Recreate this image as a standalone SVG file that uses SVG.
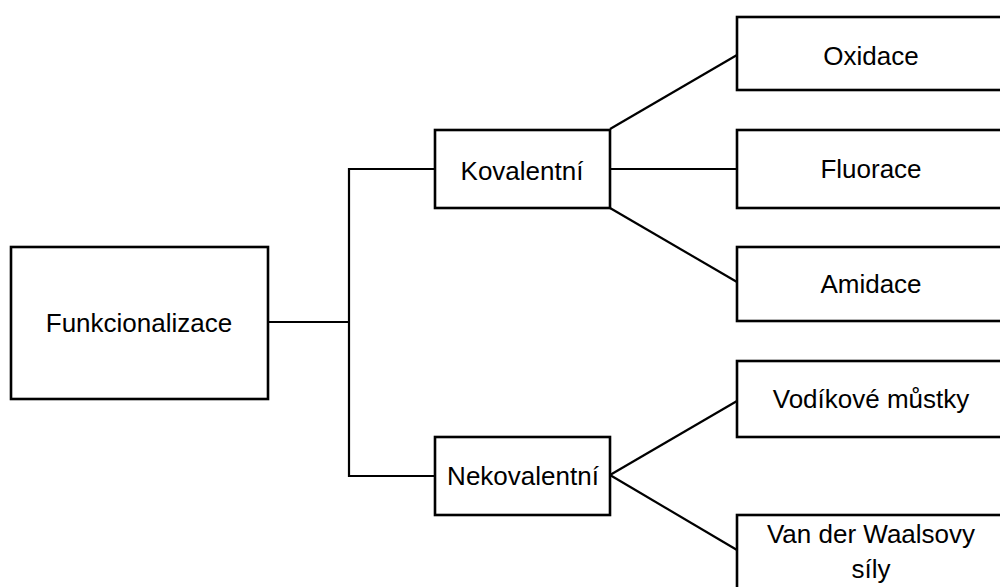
<svg xmlns="http://www.w3.org/2000/svg" width="1000" height="587" viewBox="0 0 1000 587">
<style>
.box{fill:#fff;stroke:#000;stroke-width:2.6}
.lbl{font-family:"Liberation Sans",Arial,sans-serif;font-size:26px;fill:#000;text-anchor:middle}
.con{fill:none;stroke:#000;stroke-width:2.2}
</style>
<rect width="1000" height="587" fill="#fff"/>
<g id="connectors">
<polyline class="con" points="268,322 349,322"/>
<polyline class="con" points="435,169 349,169 349,476 435,476"/>
<line class="con" x1="610" y1="129" x2="737" y2="55"/>
<line class="con" x1="610" y1="169" x2="737" y2="169"/>
<line class="con" x1="610" y1="208" x2="737" y2="282"/>
<line class="con" x1="610" y1="475" x2="737" y2="401"/>
<line class="con" x1="610" y1="475" x2="737" y2="550"/>
</g>
<g id="funkcionalizace">
<rect class="box" x="11" y="247" width="257" height="152"/>
<text class="lbl" x="139" y="332">Funkcionalizace</text>
</g>
<g id="kovalentni">
<rect class="box" x="435" y="130" width="175" height="78"/>
<text class="lbl" x="522" y="180">Kovalentní</text>
</g>
<g id="nekovalentni">
<rect class="box" x="435" y="437" width="175" height="78"/>
<text class="lbl" x="523" y="485">Nekovalentní</text>
</g>
<g id="oxidace">
<rect class="box" x="737" y="17" width="280" height="73"/>
<text class="lbl" x="871" y="65">Oxidace</text>
</g>
<g id="fluorace">
<rect class="box" x="737" y="130" width="280" height="78"/>
<text class="lbl" x="871" y="178">Fluorace</text>
</g>
<g id="amidace">
<rect class="box" x="737" y="247" width="280" height="74"/>
<text class="lbl" x="871" y="293">Amidace</text>
</g>
<g id="vodikove">
<rect class="box" x="737" y="361" width="280" height="76"/>
<text class="lbl" x="871" y="408">Vodíkové můstky</text>
</g>
<g id="vanderwaals">
<rect class="box" x="737" y="515" width="280" height="90"/>
<text class="lbl" x="871" y="543">Van der Waalsovy</text>
<text class="lbl" x="871" y="578">síly</text>
</g>
</svg>
